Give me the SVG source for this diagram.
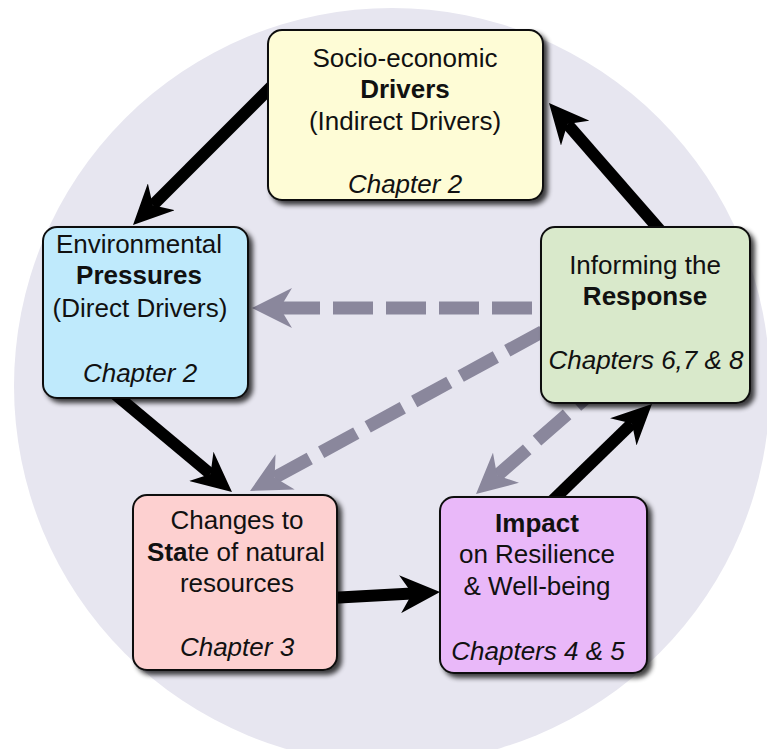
<svg xmlns="http://www.w3.org/2000/svg" width="767" height="749" viewBox="0 0 767 749">
<style>
text{font-family:"Liberation Sans",Arial,Helvetica,sans-serif;font-size:26px;fill:#111;text-anchor:middle}
.b{font-weight:bold}
.i{font-style:italic}
.box{stroke:#111;stroke-width:2}
.solid{fill:none;stroke:#000;stroke-width:12;marker-end:url(#ah)}
.dash{fill:none;stroke:#8a879c;stroke-width:13;stroke-dasharray:40 13;marker-start:url(#gh)}
</style>
<defs>
<filter id="sh" x="-10%" y="-10%" width="130%" height="130%">
<feGaussianBlur in="SourceAlpha" stdDeviation="2.5"/>
<feOffset dx="4" dy="4" result="o"/>
<feComponentTransfer><feFuncA type="linear" slope="0.75"/></feComponentTransfer>
<feMerge><feMergeNode/><feMergeNode in="SourceGraphic"/></feMerge>
</filter>
<marker id="ah" markerUnits="userSpaceOnUse" viewBox="0 0 40 38" refX="12" refY="19" markerWidth="40" markerHeight="38" orient="auto">
<path d="M0,0 L40,19 L0,38 L12,19 Z" fill="#000"/>
</marker>
<marker id="gh" markerUnits="userSpaceOnUse" viewBox="0 0 40 40" refX="12" refY="20" markerWidth="40" markerHeight="40" orient="auto-start-reverse">
<path d="M0,0 L40,20 L0,40 L12,20 Z" fill="#8a879c"/>
</marker>
</defs>
<circle cx="392" cy="386" r="378" fill="#e7e6f0"/>
<g id="connectors">
<path class="dash" d="M280,308 L545,308"/>
<path class="dash" d="M274.6,477.6 L560,322"/>
<path class="dash" d="M497.1,475.6 L595,390"/>
<path class="solid" d="M272,86 L152.8,205.2"/>
<path class="solid" d="M110,390 L210.5,474"/>
<path class="solid" d="M330,598 L412.1,593.5"/>
<path class="solid" d="M548,505 L631.9,423.5"/>
<path class="solid" d="M665,236 L567.4,124.1"/>
</g>
<g id="drivers">
<rect class="box" x="268" y="30" width="275" height="170" rx="14" fill="#fefcd6" filter="url(#sh)"/>
<text x="405" y="67">Socio-economic</text>
<text x="405" y="98" class="b">Drivers</text>
<text x="405" y="130">(Indirect Drivers)</text>
<text x="405" y="193" class="i">Chapter 2</text>
</g>
<g id="pressures">
<rect class="box" x="43" y="227" width="205" height="171" rx="14" fill="#bfeafc" filter="url(#sh)"/>
<text x="139" y="253">Environmental</text>
<text x="139" y="284" class="b">Pressures</text>
<text x="140" y="317">(Direct Drivers)</text>
<text x="140" y="382" class="i">Chapter 2</text>
</g>
<g id="response">
<rect class="box" x="541" y="227" width="209" height="176" rx="14" fill="#d9e9cb" filter="url(#sh)"/>
<text x="645" y="274">Informing the</text>
<text x="645" y="305" class="b">Response</text>
<text x="646" y="369" class="i">Chapters 6,7 &amp; 8</text>
</g>
<g id="state">
<rect class="box" x="133" y="495" width="204" height="175" rx="14" fill="#fdd0d0" filter="url(#sh)"/>
<text x="237" y="529">Changes to</text>
<text x="236" y="561"><tspan class="b">Sta</tspan>te of natural</text>
<text x="237" y="592">resources</text>
<text x="237" y="656" class="i">Chapter 3</text>
</g>
<g id="impact">
<rect class="box" x="440" y="497" width="207" height="176" rx="14" fill="#e9b8f9" filter="url(#sh)"/>
<text x="537" y="532" class="b">Impact</text>
<text x="537" y="563">on Resilience</text>
<text x="537" y="595">&amp; Well-being</text>
<text x="538" y="660" class="i">Chapters 4 &amp; 5</text>
</g>
</svg>
